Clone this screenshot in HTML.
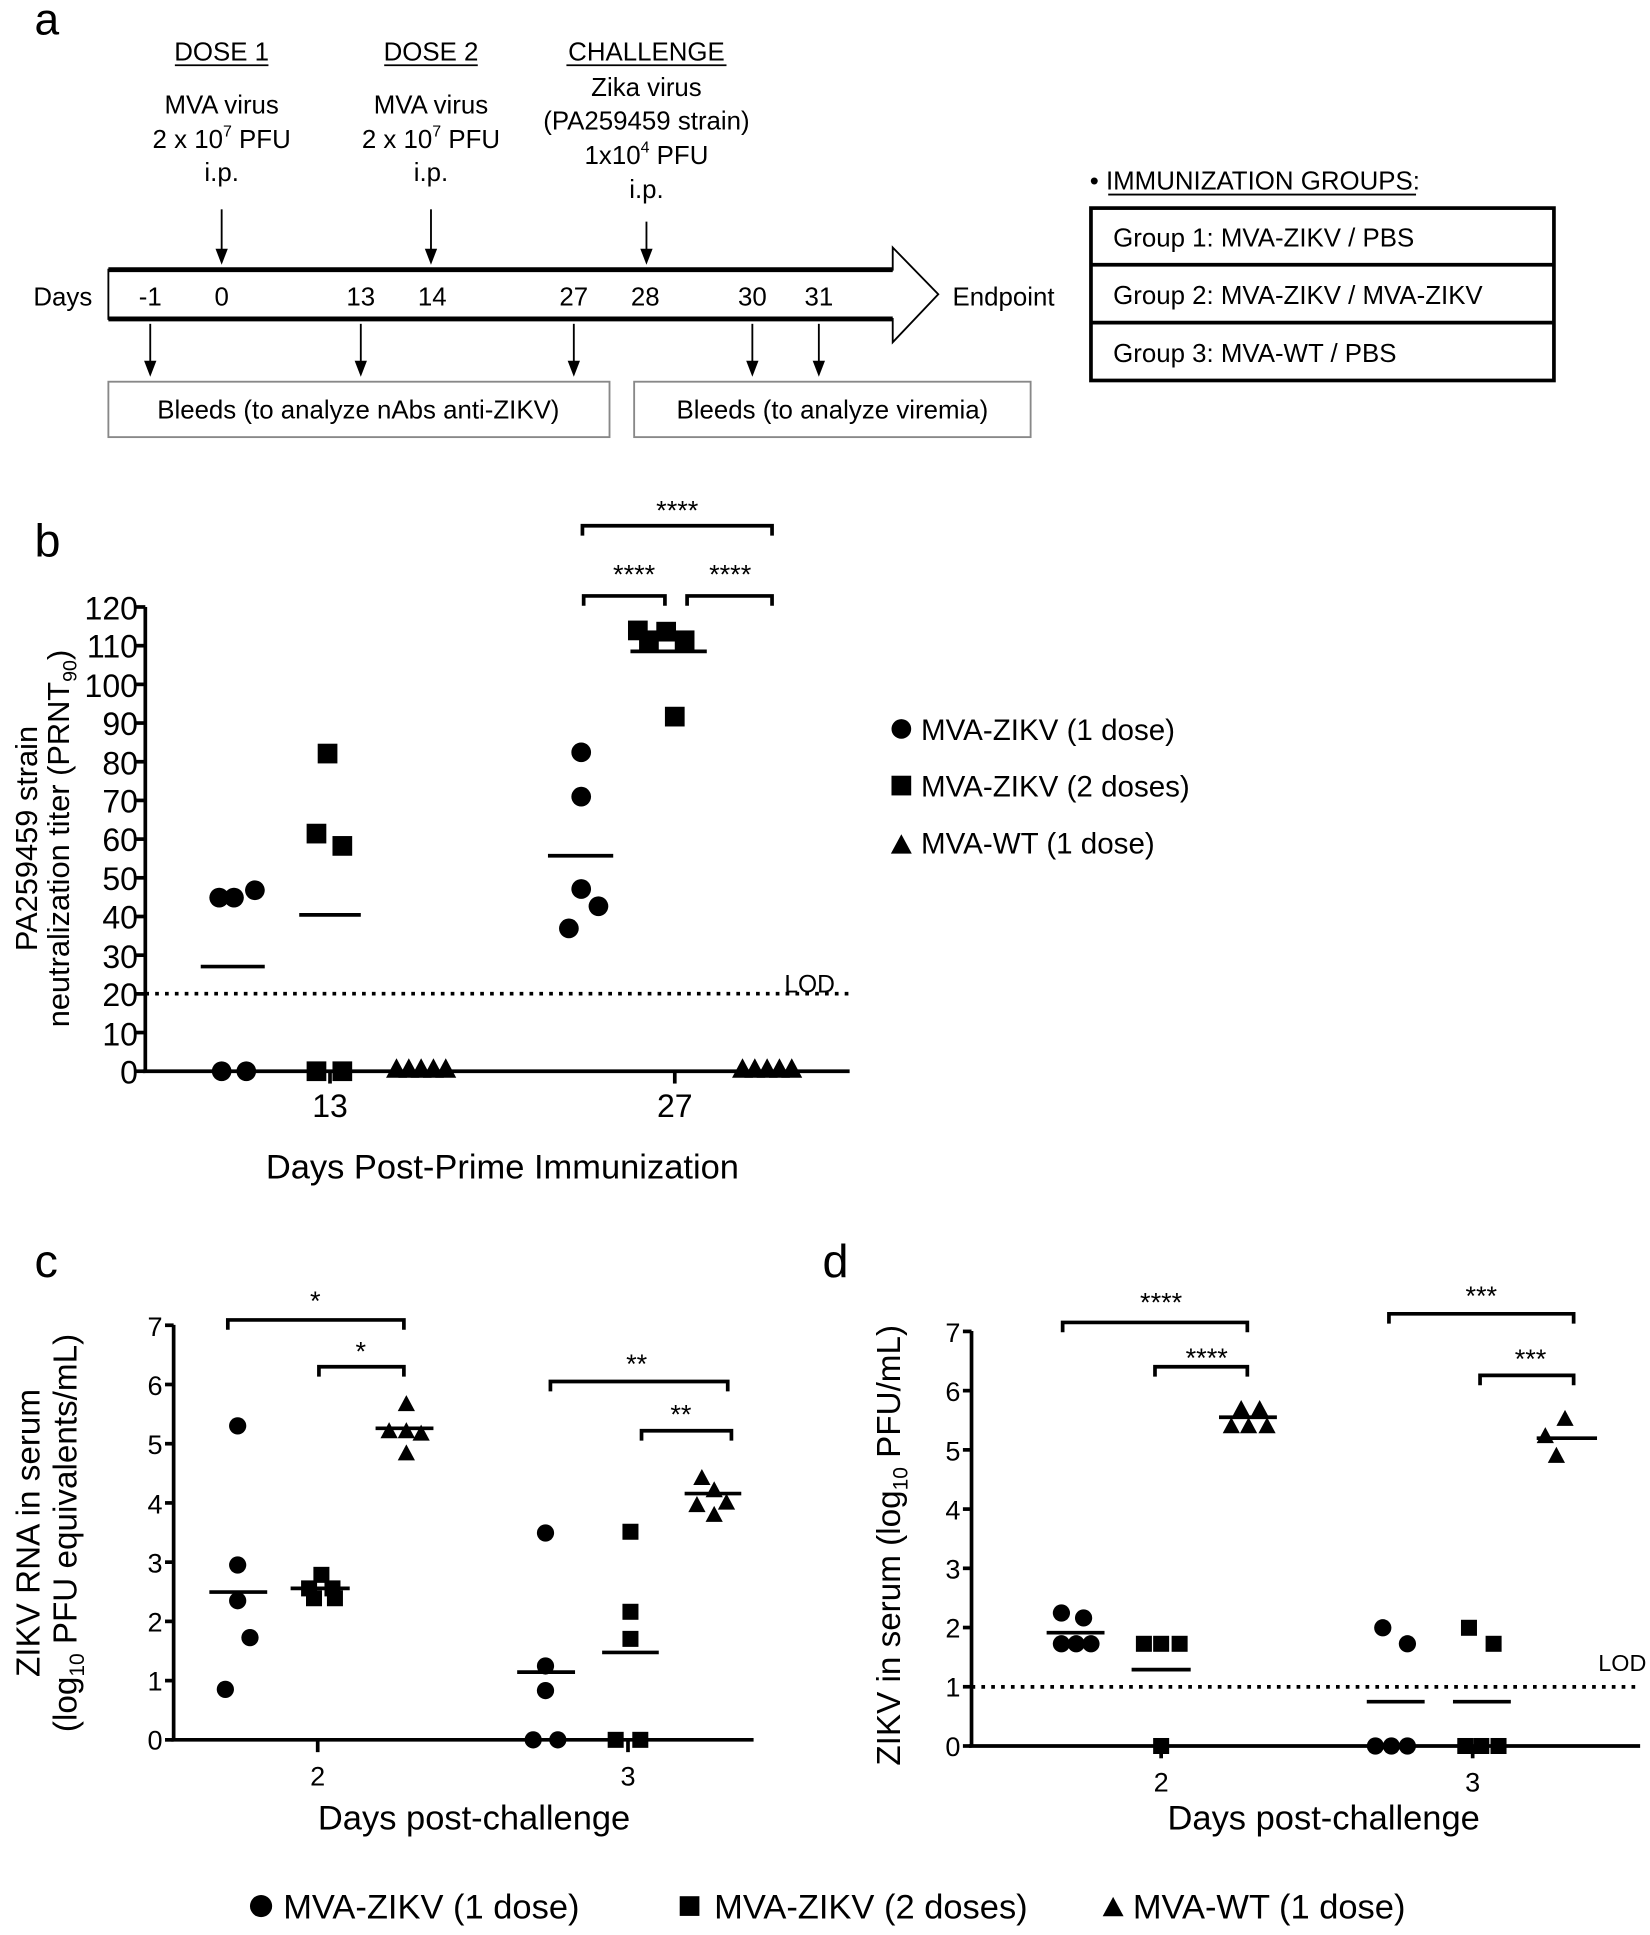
<!DOCTYPE html>
<html><head><meta charset="utf-8"><style>
html,body{margin:0;padding:0;background:#fff}
svg{display:block}
text{font-family:"Liberation Sans",sans-serif;fill:#000}
</style></head><body>
<svg id="s" width="1650" height="1935" viewBox="0 0 1340 1571.5" xmlns="http://www.w3.org/2000/svg">
<!-- Panel a -->
<text x="28" y="28" font-size="36">a</text>
<g font-size="21" text-anchor="middle">
<text x="180" y="49">DOSE 1</text><line x1="142" y1="53" x2="218" y2="53" stroke="#000" stroke-width="1.5"/>
<text x="350" y="49">DOSE 2</text><line x1="312" y1="53" x2="388" y2="53" stroke="#000" stroke-width="1.5"/>
<text x="525" y="49">CHALLENGE</text><line x1="460" y1="53" x2="590" y2="53" stroke="#000" stroke-width="1.5"/>
<text x="180" y="92">MVA virus</text><text x="180" y="120">2 x 10<tspan dy="-9" font-size="13">7</tspan><tspan dy="9"> PFU</tspan></text><text x="180" y="147">i.p.</text>
<text x="350" y="92">MVA virus</text><text x="350" y="120">2 x 10<tspan dy="-9" font-size="13">7</tspan><tspan dy="9"> PFU</tspan></text><text x="350" y="147">i.p.</text>
<text x="525" y="78">Zika virus</text><text x="525" y="105">(PA259459 strain)</text><text x="525" y="133">1x10<tspan dy="-9" font-size="13">4</tspan><tspan dy="9"> PFU</tspan></text><text x="525" y="161">i.p.</text>
</g>
<path d="M88,219 L725,219 L725,201 L762,239 L725,278 L725,259 L88,259 Z" fill="#fff" stroke="#000" stroke-width="1.5"/>
<line x1="88" y1="219" x2="725" y2="219" stroke="#000" stroke-width="4"/>
<line x1="88" y1="259" x2="725" y2="259" stroke="#000" stroke-width="4"/>
<g font-size="21" text-anchor="middle">
<text x="51" y="248">Days</text><text x="122" y="248">-1</text><text x="180" y="248">0</text><text x="293" y="248">13</text><text x="351" y="248">14</text><text x="466" y="248">27</text><text x="524" y="248">28</text><text x="611" y="248">30</text><text x="665" y="248">31</text>
<text x="815" y="248">Endpoint</text>
</g>
<rect x="88" y="310" width="407" height="45" fill="none" stroke="#888" stroke-width="1.5"/>
<rect x="515" y="310" width="322" height="45" fill="none" stroke="#888" stroke-width="1.5"/>
<g font-size="21" text-anchor="middle"><text x="291" y="340">Bleeds (to analyze nAbs anti-ZIKV)</text><text x="676" y="340">Bleeds (to analyze viremia)</text></g>
<text x="885" y="154" font-size="21">• IMMUNIZATION GROUPS:</text><line x1="900" y1="158" x2="1150" y2="158" stroke="#000" stroke-width="1.5"/>
<g stroke="#000" stroke-width="3" fill="none"><rect x="886" y="169" width="376" height="140"/><line x1="886" y1="215" x2="1262" y2="215"/><line x1="886" y1="262" x2="1262" y2="262"/></g>
<g font-size="21"><text x="904" y="200">Group 1: MVA-ZIKV / PBS</text><text x="904" y="247">Group 2: MVA-ZIKV / MVA-ZIKV</text><text x="904" y="294">Group 3: MVA-WT / PBS</text></g>

<!-- Panel b -->
<text x="28" y="452" font-size="38">b</text>
<g font-size="26" text-anchor="end">
<text x="112" y="880">0</text><text x="112" y="849">10</text><text x="112" y="817">20</text><text x="112" y="786">30</text><text x="112" y="754">40</text><text x="112" y="723">50</text><text x="112" y="691">60</text><text x="112" y="660">70</text><text x="112" y="629">80</text><text x="112" y="597">90</text><text x="112" y="566">100</text><text x="112" y="534">110</text><text x="112" y="503">120</text>
</g>
<g font-size="26" text-anchor="middle"><text x="268" y="907">13</text><text x="548" y="907">27</text></g>
<text x="408" y="957" font-size="28" text-anchor="middle">Days Post-Prime Immunization</text>
<text transform="translate(30,681) rotate(-90)" font-size="25" text-anchor="middle">PA259459 strain</text>
<text transform="translate(56,681) rotate(-90)" font-size="25" text-anchor="middle">neutralization titer (PRNT<tspan font-size="16" dy="6">90</tspan><tspan dy="-6">)</tspan></text>
<text x="637" y="806" font-size="20">LOD</text>
<g font-size="22" text-anchor="middle"><text x="550" y="422">****</text><text x="515" y="474">****</text><text x="593" y="474">****</text></g>
<g font-size="24"><text x="748" y="601">MVA-ZIKV (1 dose)</text><text x="748" y="647">MVA-ZIKV (2 doses)</text><text x="748" y="693">MVA-WT (1 dose)</text></g>

<!-- Panel c -->
<text x="28" y="1037" font-size="38">c</text>
<g font-size="22" text-anchor="end">
<text x="132" y="1421">0</text><text x="132" y="1373">1</text><text x="132" y="1325">2</text><text x="132" y="1277">3</text><text x="132" y="1229">4</text><text x="132" y="1181">5</text><text x="132" y="1133">6</text><text x="132" y="1085">7</text>
</g>
<g font-size="22" text-anchor="middle"><text x="258" y="1450">2</text><text x="510" y="1450">3</text></g>
<text x="385" y="1486" font-size="28" text-anchor="middle">Days post-challenge</text>
<text transform="translate(32,1245) rotate(-90)" font-size="27" text-anchor="middle">ZIKV RNA in serum</text>
<text transform="translate(62,1245) rotate(-90)" font-size="27" text-anchor="middle">(log<tspan font-size="17" dy="6">10</tspan><tspan dy="-6"> PFU equivalents/mL)</tspan></text>
<g font-size="22" text-anchor="middle"><text x="256" y="1064">*</text><text x="293" y="1105">*</text><text x="517" y="1115">**</text><text x="553" y="1156">**</text></g>

<!-- Panel d -->
<text x="668" y="1037" font-size="38">d</text>
<g font-size="22" text-anchor="end">
<text x="780" y="1426">0</text><text x="780" y="1378">1</text><text x="780" y="1330">2</text><text x="780" y="1282">3</text><text x="780" y="1234">4</text><text x="780" y="1186">5</text><text x="780" y="1138">6</text><text x="780" y="1090">7</text>
</g>
<g font-size="22" text-anchor="middle"><text x="943" y="1455">2</text><text x="1196" y="1455">3</text></g>
<text x="1075" y="1486" font-size="28" text-anchor="middle">Days post-challenge</text>
<text transform="translate(731,1255) rotate(-90)" font-size="27" text-anchor="middle">ZIKV in serum (log<tspan font-size="17" dy="6">10</tspan><tspan dy="-6"> PFU/mL)</tspan></text>
<text x="1298" y="1357" font-size="19">LOD</text>
<g font-size="22" text-anchor="middle"><text x="943" y="1065">****</text><text x="980" y="1110">****</text><text x="1203" y="1060">***</text><text x="1243" y="1111">***</text></g>

<!-- bottom legend -->
<g font-size="28"><text x="230" y="1558">MVA-ZIKV (1 dose)</text><text x="580" y="1558">MVA-ZIKV (2 doses)</text><text x="920" y="1558">MVA-WT (1 dose)</text></g>
<g id="g"></g>
</svg>
<script>
var g=document.getElementById('g'),h='';
function L(a,b,c,d,w,extra){h+='<line x1="'+a+'" y1="'+b+'" x2="'+c+'" y2="'+d+'" stroke="#000" stroke-width="'+(w||3)+'" '+(extra||'')+'/>';}
function A(x,y1,y2){L(x,y1,x,y2-12,1.5);h+='<path d="M'+(x-5)+','+(y2-13)+' L'+(x+5)+','+(y2-13)+' L'+x+','+y2+' Z"/>';}
function C(x,y,r){h+='<circle cx="'+x+'" cy="'+y+'" r="'+(r||8)+'"/>';}
function S(x,y,s){s=s||16;h+='<rect x="'+(x-s/2)+'" y="'+(y-s/2)+'" width="'+s+'" height="'+s+'"/>';}
function T(x,y,s){s=s||17;h+='<path d="M'+(x-s/2)+','+(y+s*0.43)+' L'+(x+s/2)+','+(y+s*0.43)+' L'+x+','+(y-s*0.5)+' Z"/>';}
function B(x1,x2,y){h+='<path d="M'+x1+','+(y+8)+' L'+x1+','+y+' L'+x2+','+y+' L'+x2+','+(y+8)+'" fill="none" stroke="#000" stroke-width="3"/>';}
A(180,170,215);A(350,170,215);A(525,180,215);
A(122,263,306);A(293,263,306);A(466,263,306);A(611,263,306);A(665,263,306);
L(118,493,118,871,3);L(116,870,690,870,3);
for(var i=0;i<=12;i++){var y=870-i*31.42;L(110,y,118,y,3);}
L(268,870,268,880,3);L(548,870,548,880,3);
L(118,807,690,807,3,'stroke-dasharray="3,5"');
C(178,729);C(190,729);C(207,723);C(180,870);C(200,870);L(163,785,215,785,3);
S(266,612);S(257,677);S(278,687);S(257,870);S(278,870);L(243,743,293,743,3);
[322,332,342,352,362].forEach(function(x){T(x,868);});
C(472,611);C(472,647);C(472,722);C(486,736);C(462,754);L(445,695,498,695,3);
S(518,512);S(541,513);S(527,520);S(556,520);S(548,582);L(512,529,574,529,3);
[603,613,623,633,643].forEach(function(x){T(x,868);});
B(473,627,427);B(474,540,484);B(558,627,484);
C(732,592);S(732,638);T(732,686);
L(141,1076,141,1414,3);L(139,1413,612,1413,3);
for(i=0;i<=7;i++){y=1413-i*48.1;L(134,y,141,y,3);}
L(258,1413,258,1423,3);L(510,1413,510,1423,3);
C(193,1158,7);C(193,1271,7);C(193,1300,7);C(203,1330,7);C(183,1372,7);L(170,1293,217,1293,3);
S(261,1279,13);S(251,1290,13);S(270,1290,13);S(255,1298,13);S(272,1298,13);L(236,1290,284,1290,3);
T(330,1140,14);T(316,1162,14);T(330,1162,14);T(342,1164,14);T(330,1180,14);L(305,1160,352,1160,3);
C(443,1245,7);C(443,1353,7);C(443,1373,7);C(433,1413,7);C(453,1413,7);L(420,1358,467,1358,3);
S(512,1244,13);S(512,1309,13);S(512,1331,13);S(500,1413,13);S(520,1413,13);L(489,1342,535,1342,3);
T(570,1200,14);T(580,1210,14);T(566,1222,14);T(590,1220,14);T(580,1230,14);L(556,1213,602,1213,3);
B(185,328,1072);B(259,328,1110);B(447,591,1122);B(521,594,1162);
L(789,1081,789,1419,3);L(787,1418,1332,1418,3);
for(i=0;i<=7;i++){y=1418-i*48.1;L(782,y,789,y,3);}
L(943,1418,943,1428,3);L(1196,1418,1196,1428,3);
L(789,1370,1332,1370,3,'stroke-dasharray="3,5"');
C(862,1310,7);C(880,1314,7);C(862,1335,7);C(874,1335,7);C(886,1335,7);L(850,1326,897,1326,3);
S(929,1335,13);S(943,1335,13);S(958,1335,13);S(943,1418,13);L(919,1356,967,1356,3);
T(1008,1144,14);T(1023,1144,14);T(1000,1158,14);T(1014,1158,14);T(1029,1158,14);L(990,1151,1037,1151,3);
C(1123,1322,7);C(1143,1335,7);C(1117,1418,7);C(1130,1418,7);C(1143,1418,7);L(1110,1382,1157,1382,3);
S(1193,1322,13);S(1213,1335,13);S(1190,1418,13);S(1203,1418,13);S(1217,1418,13);L(1180,1382,1227,1382,3);
T(1271,1152,14);T(1255,1166,14);T(1264,1182,14);L(1248,1168,1297,1168,3);
B(863,1013,1074);B(938,1013,1110);B(1128,1278,1067);B(1202,1278,1117);
C(212,1548,9);S(560,1548,16);T(904,1549,17);
g.innerHTML=h;
</script>
</body></html>
